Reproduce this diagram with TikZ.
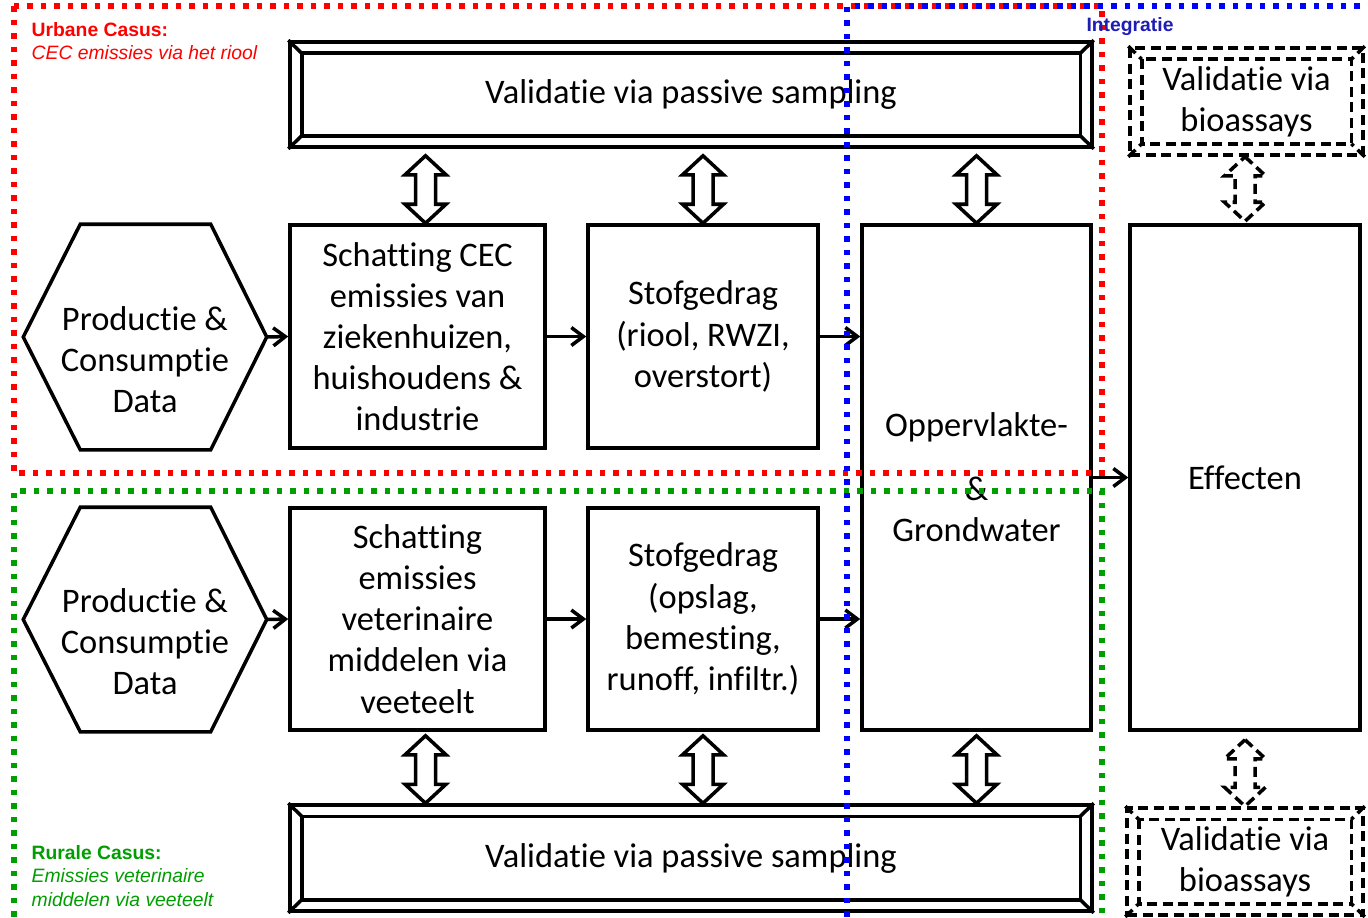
\documentclass[tikz,border=0pt]{standalone}
\usepackage{fontspec}
\setmainfont{Carlito}[Ligatures={NoCommon}]
\newfontfamily\labelfont{Liberation Sans}
\usetikzlibrary{calc,arrows.meta}

\definecolor{rood}{RGB}{255,0,0}
\definecolor{groen}{RGB}{0,158,0}
\definecolor{blauw}{RGB}{0,0,255}
\definecolor{integratieblauw}{RGB}{30,30,180}

% binnenste kader met schuine hoeken
\newcommand{\binnenrand}[2][]{%
  \draw[line width=1pt, #1] ($(#2.north west)+(1.35mm,-1.3mm)$) rectangle ($(#2.south east)+(-1.35mm,1.3mm)$);
  \draw[line width=1pt, #1] (#2.north west) -- +(1.35mm,-1.3mm) (#2.north east) -- +(-1.35mm,-1.3mm)
    (#2.south west) -- +(1.35mm,1.3mm) (#2.south east) -- +(-1.35mm,1.3mm);}
% zeshoek rond een node
\newcommand{\zeshoek}[1]{%
  \draw[line width=1pt] (#1.west) -- ([xshift=5.7mm]#1.north west) -- ([xshift=-5.6mm]#1.north east)
    -- (#1.east) -- ([xshift=-5.6mm]#1.south east) -- ([xshift=5.7mm]#1.south west) -- cycle;}
% blokpijl met twee punten
\newcommand{\dubbelpijl}[3][]{%
  \draw[line width=1pt, fill=white, #1] (#2) -- ++(2.05mm,-1.9mm) -- ++(-1.05mm,0)
    -- ($(#3)+(1mm,1.9mm)$) -- ++(1.05mm,0) -- (#3) -- ++(-2.05mm,1.9mm) -- ++(1.05mm,0)
    -- ($(#2)+(-1mm,-1.9mm)$) -- ++(-1.05mm,0) -- cycle;}

\begin{document}
\begin{tikzpicture}[x=0.1mm, y=-0.1mm, line join=miter,
  tekst/.style={font=\fontsize{9.8}{11.7}\selectfont},
  blok/.style={tekst, draw, line width=1pt, fill=white, align=center, inner sep=0pt},
  kader/.style={blok},
  stippel/.style={line width=0.55mm, dash pattern=on 0.55mm off 0.8mm},
  gestreept/.style={dash pattern=on 1mm off 0.55mm},
  pijl/.style={line width=1pt, -{Straight Barb[length=1.2mm,width=1.8mm]}},
  casus/.style={font=\labelfont\fontsize{5.5}{6.7}\selectfont, align=left, inner sep=0pt, anchor=west}]
\useasboundingbox (0,0) rectangle (1368,917);
\fill[white] (0,0) rectangle (1368,917);

% urbane casus
\node[kader, minimum width=80.2mm, minimum height=10.5mm] (pas1) at (691,94.5) {\raisebox{-1.2mm}{Validatie via passive sampling}};
\binnenrand{pas1}
\node[blok, draw=none, fill=none, minimum width=24mm, minimum height=22.2mm] (prod1) at (145,337) {};
\zeshoek{prod1}
\node[tekst, align=center] (prod1t) at ([yshift=-2.3mm]prod1.center) {Productie \&\\Consumptie\\Data};
\node[blok, minimum width=25.5mm, minimum height=22.3mm] (sch1) at (417.5,336.5) {Schatting CEC\\emissies van\\ziekenhuizen,\\huishoudens \&\\industrie};
\node[blok, minimum width=23mm, minimum height=22.3mm] (st1) at (703,336.5) {Stofgedrag\\(riool, RWZI,\\overstort)};

% rurale casus
\node[blok, draw=none, fill=none, minimum width=24mm, minimum height=22.1mm] (prod2) at (145,619.5) {};
\zeshoek{prod2}
\node[tekst, align=center] (prod2t) at ([yshift=-2.2mm]prod2.center) {Productie \&\\Consumptie\\Data};
\node[blok, minimum width=25.5mm, minimum height=22.2mm] (sch2) at (417.5,619) {Schatting\\emissies\\veterinaire\\middelen via\\veeteelt};
\node[blok, minimum width=23mm, minimum height=22.2mm] (st2) at (703,619) {Stofgedrag\\(opslag,\\bemesting,\\runoff, infiltr.)};
\node[kader, minimum width=80.2mm, minimum height=10.6mm] (pas2) at (691,858) {Validatie via passive sampling};
\binnenrand{pas2}

% integratie
\node[blok, minimum width=22.9mm, minimum height=50.5mm] (opp) at (976.5,477.5) {Oppervlakte-\\[6.5pt]\&\\Grondwater};
\node[blok, minimum width=23mm, minimum height=50.5mm] (eff) at (1245,477.5) {Effecten};
\node[kader, gestreept, minimum width=23.3mm, minimum height=10.7mm] (bio1) at (1246.5,101.5) {Validatie via\\bioassays};
\binnenrand[gestreept]{bio1}
\node[kader, gestreept, minimum width=23.6mm, minimum height=10.7mm] (bio2) at (1245,861.5) {Validatie via\\bioassays};
\binnenrand[gestreept]{bio2}

% pijlen
\draw[pijl] (prod1.east) -- (sch1.west);
\draw[pijl] (sch1.east) -- (st1.west);
\draw[pijl] (st1.east) -- (st1.east -| opp.west);
\draw[pijl] (prod2.east) -- (sch2.west);
\draw[pijl] (sch2.east) -- (st2.west);
\draw[pijl] (st2.east) -- (st2.east -| opp.west);
\draw[pijl] (opp.east) -- (eff.west);

\foreach \vak/\dx in {sch1/0.8mm, st1/0mm, opp/0mm} {
  \coordinate (boven) at ($(\vak.north |- pas1.south)+(\dx,-0.7mm)$);
  \coordinate (onder) at ($(\vak.north)+(\dx,0)$);
  \dubbelpijl{boven}{onder}
}
\foreach \vak/\dx in {sch2/0.8mm, st2/0mm, opp/0mm} {
  \coordinate (boven) at ($(\vak.south)+(\dx,-0.4mm)$);
  \coordinate (onder) at ($(\vak.south |- pas2.north)+(\dx,0)$);
  \dubbelpijl{boven}{onder}
}
\coordinate (boven) at (eff.north |- bio1.south);
\coordinate (onder) at ($(eff.north)+(0,0.2mm)$);
\dubbelpijl[gestreept]{boven}{onder}
\coordinate (boven) at ($(eff.south)+(0,-0.8mm)$);
\coordinate (onder) at (eff.south |- bio2.north);
\dubbelpijl[gestreept]{boven}{onder}

% kaders van de casussen
\draw[rood, stippel] (14,6) rectangle (1102,473);
\draw[groen, stippel] (14,930) |- (1102,491) -- (1102,930);
\draw[blauw, stippel] (847,930) |- (1380,6);

\node[casus, text=rood] (urbaan) at (31,41) {\textbf{Urbane Casus:}\\\textit{CEC emissies via het riool}};
\node[casus, text=groen] (ruraal) at (31,876) {\textbf{Rurale Casus:}\\\textit{Emissies veterinaire}\\\textit{middelen via veeteelt}};
\node[casus, anchor=center, text=integratieblauw] (integratie) at (1130,27) {\textbf{Integratie}};
\end{tikzpicture}
\end{document}
